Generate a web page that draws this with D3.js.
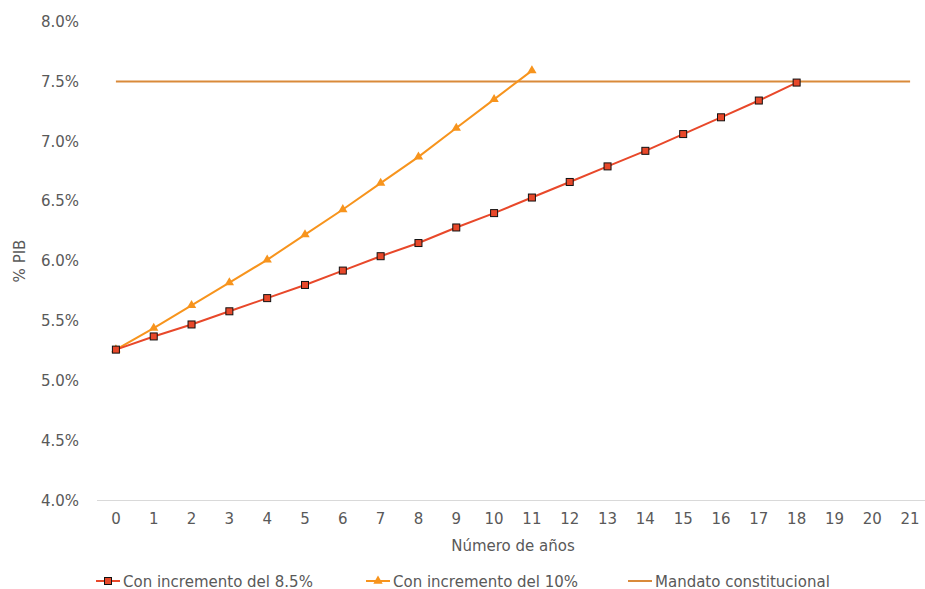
<!DOCTYPE html>
<html>
<head>
<meta charset="utf-8">
<script src="https://cdn.jsdelivr.net/npm/d3@7/dist/d3.min.js"></script>
<style>
  html, body { margin: 0; padding: 0; background: #fff; }
  svg { display: block; font-family: "DejaVu Sans", "Noto Sans", sans-serif; }
</style>
</head>
<body>
<svg id="chart" width="925" height="589"></svg>
<script>
// Years since start (category axis)
const years = d3.range(0, 22).map(String);
// % of GDP with an 8.5% yearly increase
const serie85 = [5.26, 5.37, 5.47, 5.58, 5.69, 5.80, 5.92, 6.04, 6.15, 6.28, 6.40, 6.53, 6.66, 6.79, 6.92, 7.06, 7.20, 7.34, 7.49];
// % of GDP with a 10% yearly increase
const serie10 = [5.26, 5.44, 5.63, 5.82, 6.01, 6.22, 6.43, 6.65, 6.87, 7.11, 7.35, 7.59];
// Constitutional mandate level
const mandato = 7.5;
const yTicks = [4.0, 4.5, 5.0, 5.5, 6.0, 6.5, 7.0, 7.5, 8.0];
const seriesNames = ["Con incremento del 8.5%", "Con incremento del 10%", "Mandato constitucional"];

const colors = { s85: "#e8482a", s10: "#f7941d", mand: "#d98a3a", text: "#595959", axis: "#d9d9d9" };
const fontFam = "'DejaVu Sans', 'Noto Sans', sans-serif";
const fs = 15;

const svg = d3.select("#chart");

const x = d3.scaleBand().domain(years).range([97, 929]);
const xc = d => x(d) + x.bandwidth() / 2;
const y = d3.scaleLinear().domain([4.0, 8.0]).range([500.5, 21.5]);

// Y axis labels
const yAxis = d3.axisLeft(y).tickValues(yTicks).tickSize(0).tickPadding(0)
  .tickFormat(d => d.toFixed(1) + "%");
svg.append("g").attr("transform", "translate(79,0)").call(yAxis)
  .call(g => g.select(".domain").remove())
  .call(g => g.selectAll("text").attr("fill", colors.text).attr("font-size", fs)
    .attr("font-family", fontFam));

// X axis with baseline
const xAxis = d3.axisBottom(x).tickSize(0).tickPadding(13);
svg.append("g").attr("transform", `translate(0,${y(4.0)})`).call(xAxis)
  .call(g => g.select(".domain").attr("stroke", colors.axis).attr("d", "M97,0H925"))
  .call(g => g.selectAll("text").attr("fill", colors.text).attr("font-size", fs)
    .attr("font-family", fontFam));

// Axis titles
svg.append("text").attr("x", 513).attr("y", 551).attr("text-anchor", "middle")
  .attr("fill", colors.text).attr("font-size", fs).text("Número de años");
svg.append("text").attr("transform", "translate(25,261) rotate(-90)").attr("text-anchor", "middle")
  .attr("fill", colors.text).attr("font-size", fs).text("% PIB");

// Constitutional mandate line
svg.append("line")
  .attr("x1", xc("0")).attr("x2", xc("21"))
  .attr("y1", y(mandato)).attr("y2", y(mandato))
  .attr("stroke", colors.mand).attr("stroke-width", 2);

const line = d3.line().x((d, i) => xc(years[i])).y(d => y(d));

// 10% series
svg.append("path").datum(serie10).attr("d", line)
  .attr("fill", "none").attr("stroke", colors.s10).attr("stroke-width", 2);
const tri = d3.symbol().type(d3.symbolTriangle).size(38);
svg.append("g").selectAll("path").data(serie10).join("path")
  .attr("d", tri)
  .attr("transform", (d, i) => `translate(${xc(years[i])},${y(d)})`)
  .attr("fill", colors.s10);

// 8.5% series
svg.append("path").datum(serie85).attr("d", line)
  .attr("fill", "none").attr("stroke", colors.s85).attr("stroke-width", 2);
svg.append("g").selectAll("rect").data(serie85).join("rect")
  .attr("x", (d, i) => xc(years[i]) - 3.5).attr("y", d => y(d) - 3.5)
  .attr("width", 7).attr("height", 7)
  .attr("fill", colors.s85).attr("stroke", "#111").attr("stroke-width", 1);

// Legend
const legY = 581;
const leg = svg.append("g");
const items = [
  { name: seriesNames[0], color: colors.s85, marker: "square", x: 96 },
  { name: seriesNames[1], color: colors.s10, marker: "triangle", x: 366 },
  { name: seriesNames[2], color: colors.mand, marker: "none", x: 628 }
];
items.forEach(it => {
  const g = leg.append("g").attr("transform", `translate(${it.x},${legY})`);
  g.append("line").attr("x1", 0).attr("x2", 24).attr("y1", 0).attr("y2", 0)
    .attr("stroke", it.color).attr("stroke-width", 2);
  if (it.marker === "square") {
    g.append("rect").attr("x", 8.5).attr("y", -3.5).attr("width", 7).attr("height", 7)
      .attr("fill", it.color).attr("stroke", "#111").attr("stroke-width", 1);
  } else if (it.marker === "triangle") {
    g.append("path").attr("d", tri).attr("transform", "translate(12,0)").attr("fill", it.color);
  }
  g.append("text").attr("x", 27).attr("y", 5.5).attr("fill", colors.text)
    .attr("font-size", fs).text(it.name);
});
</script>
</body>
</html>
